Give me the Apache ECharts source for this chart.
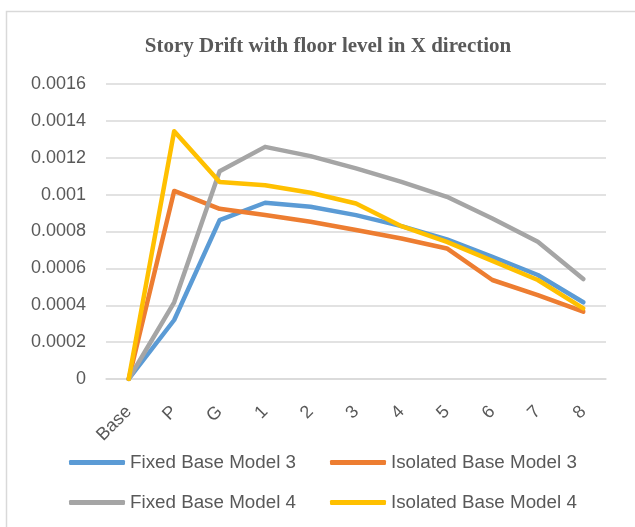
<!DOCTYPE html>
<html lang="en">
  <head>
    <meta charset="UTF-8" />
    <title>Story Drift</title>
    <script src="https://cdn.jsdelivr.net/npm/echarts@6/dist/echarts.min.js"></script>
    <style>
      html, body { margin: 0; padding: 0; background: #fff; }
      #main { width: 635px; height: 527px; }
    </style>
  </head>
  <body>
    <div id="main"></div>
    <script type="text/javascript">
      // floor levels (x axis)
      var floors = ["Base", "P", "G", "1", "2", "3", "4", "5", "6", "7", "8"];

      // story drift values
      var fixedModel3 = [0, 0.00032, 0.000862, 0.000956, 0.000934, 0.000889, 0.000829, 0.000757, 0.000663, 0.000564, 0.000416];
      var isolatedModel3 = [0, 0.00102, 0.000923, 0.000889, 0.000853, 0.000808, 0.000762, 0.000708, 0.000537, 0.000455, 0.000365];
      var fixedModel4 = [0, 0.000416, 0.001127, 0.001259, 0.001209, 0.001142, 0.001069, 0.000988, 0.000871, 0.000744, 0.000542];
      var isolatedModel4 = [0, 0.001344, 0.001068, 0.001051, 0.00101, 0.000952, 0.000829, 0.000744, 0.000641, 0.000537, 0.000383];

      var seriesNames = ["Fixed Base Model 3", "Isolated Base Model 3", "Fixed Base Model 4", "Isolated Base Model 4"];
      var seriesColors = ["#5B9BD5", "#ED7D31", "#A5A5A5", "#FFC000"];
      var seriesData = [fixedModel3, isolatedModel3, fixedModel4, isolatedModel4];

      var myChart = echarts.init(document.getElementById("main"));

      var labelFont = { color: "#595959", fontFamily: "Liberation Sans", fontSize: 18 };

      function legendRow(names, top) {
        return {
          top: top,
          left: 64,
          orient: "horizontal",
          itemWidth: 56,
          itemHeight: 5,
          itemGap: 34,
          icon: "roundRect",
          data: names,
          textStyle: Object.assign({}, labelFont, { fontSize: 18.8 }),
        };
      }

      var option = {
        animation: false,
        color: seriesColors,
        title: {
          text: "Story Drift with floor level in X direction",
          left: 323,
          textAlign: "center",
          top: 31,
          textStyle: {
            fontFamily: "Liberation Serif",
            fontWeight: "bold",
            fontSize: 21,
            color: "#595959",
          },
        },
        graphic: [
          {
            type: "rect",
            shape: { x: 6.5, y: 11.5, width: 640, height: 540 },
            style: { fill: "none", stroke: "#d9d9d9", lineWidth: 1.5 },
            silent: true,
          },
        ],
        legend: [
          legendRow(seriesNames.slice(0, 2), 448),
          legendRow(seriesNames.slice(2, 4), 488),
        ],
        grid: { left: 106, right: 29, top: 84, bottom: 148 },
        xAxis: {
          type: "category",
          data: floors,
          boundaryGap: true,
          axisLine: { lineStyle: { color: "#d9d9d9", width: 1.5 } },
          axisTick: { show: false },
          axisLabel: Object.assign({ rotate: 45, margin: 30, interval: 0 }, labelFont),
        },
        yAxis: {
          type: "value",
          min: 0,
          max: 0.0016,
          interval: 0.0002,
          axisLine: { show: false },
          axisTick: { show: false },
          splitLine: { lineStyle: { color: "#d9d9d9", width: 1.5 } },
          axisLabel: Object.assign(
            {
              margin: 20,
              formatter: function (v) {
                return String(parseFloat(v.toFixed(4)));
              },
            },
            labelFont
          ),
        },
        series: seriesData.map(function (d, i) {
          return {
            name: seriesNames[i],
            type: "line",
            data: d,
            symbol: "none",
            lineStyle: { width: 4.5, color: seriesColors[i], cap: "round", join: "round" },
          };
        }),
      };

      myChart.setOption(option);
    </script>
  </body>
</html>
